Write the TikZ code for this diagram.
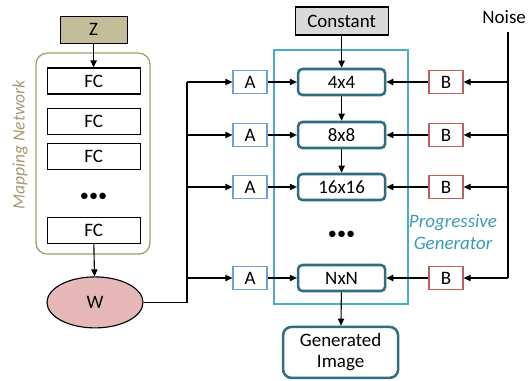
\documentclass[tikz,border=0pt]{standalone}
\usepackage{fontspec}
\setmainfont{Carlito}
\usepackage{xcolor}
\definecolor{mapolive}{HTML}{A59B6E}
\definecolor{zfill}{HTML}{C4BD97}
\definecolor{wfill}{HTML}{E6B9B8}
\definecolor{genframe}{HTML}{4BACC6}
\definecolor{gentext}{HTML}{3A9BB5}
\definecolor{blkteal}{HTML}{2E6E7E}
\definecolor{aline}{HTML}{6FA0DC}
\definecolor{bline}{HTML}{C0605E}
\definecolor{constfill}{HTML}{D9D9D9}
\usetikzlibrary{shapes.geometric,arrows.meta,positioning}

\begin{document}
\begin{tikzpicture}[
  font=\fontsize{13.5}{15}\selectfont,
  fc/.style={draw=black, fill=white, line width=0.8pt,
             minimum width=2.325cm, minimum height=0.65cm, inner sep=0pt},
  blk/.style={draw=blkteal, fill=white, line width=1.8pt, rounded corners=3pt,
              minimum width=2.175cm, minimum height=0.65cm, inner sep=0pt},
  abox/.style={draw=aline, fill=white, line width=0.9pt,
               minimum width=0.85cm, minimum height=0.575cm, inner sep=0pt},
  bbox/.style={draw=bline, fill=white, line width=0.9pt,
               minimum width=0.85cm, minimum height=0.575cm, inner sep=0pt},
  frm/.style={rounded corners=8pt, line width=0.9pt, inner sep=0pt},
  dots/.style={font=\fontsize{13}{13}\selectfont, inner sep=0pt},
  ln/.style={draw=black, line width=0.8pt},
  arr/.style={-{Triangle[length=5pt,width=4.5pt]}, draw=black, line width=0.8pt}
]
  \useasboundingbox (0,0) rectangle (13.225,-9.5);

  %% Mapping network
  \node[frm, draw=mapolive, minimum width=2.85cm, minimum height=5.025cm] (map) at (2.325,-3.84) {};
  \node[font=\fontsize{12.5}{15}\selectfont\itshape\color{mapolive}, rotate=90] (maplbl) at (0.5,-3.625) {Mapping Network};
  \node[draw=black, fill=zfill, line width=0.8pt, minimum width=1.675cm,
        minimum height=0.675cm, inner sep=0pt] (z) at (2.34,-0.74) {Z};
  \node[fc] (fc1) at (2.34,-2.025) {FC};
  \node[fc] (fc2) at (2.34,-3.04)  {FC};
  \node[fc] (fc3) at (2.34,-3.91)  {FC};
  \node[dots] (fcdots) at (2.34,-4.93) {\textbullet\textbullet\textbullet};
  \node[fc] (fc4) at (2.34,-5.76)  {FC};
  \node[ellipse, draw=black, fill=wfill, line width=0.8pt, minimum width=2.4cm,
        minimum height=1.275cm, inner sep=0pt] (w) at (2.375,-7.56) {W};
  \draw[arr] (z) -- (fc1);
  \draw[arr] (fc4) -- (w);

  %% Progressive generator
  \node[draw=genframe, line width=0.9pt, minimum width=3.35cm, minimum height=6.35cm,
        inner sep=0pt] (gen) at (8.525,-4.425) {};
  \node[font=\fontsize{13.5}{16}\selectfont\itshape\color{gentext}, align=center] (genlbl)
    at (11.325,-5.8) {Progressive\\Generator};
  \node[draw=black, fill=constfill, line width=0.8pt, minimum width=2.325cm,
        minimum height=0.7cm, inner sep=0pt] (const) at (8.54,-0.525) {Constant};
  \node[blk] (r1) at (8.54,-2.05)  {4x4};
  \node[blk] (r2) at (8.54,-3.375) {8x8};
  \node[blk] (r3) at (8.54,-4.675) {16x16};
  \node[dots] (gendots) at (8.54,-5.88) {\textbullet\textbullet\textbullet};
  \node[blk] (rn) at (8.54,-6.95)  {NxN};
  \node[blk, minimum width=2.875cm, minimum height=1.275cm, align=center,
        rounded corners=6pt] (img) at (8.515,-8.81) {Generated\\Image};
  \draw[arr] (const) -- (r1);
  \draw[arr] (r1) -- (r2);
  \draw[arr] (r2) -- (r3);
  \draw[arr] (rn) -- (img);

  %% Style inputs
  \coordinate (bus) at (4.675,-2.05);
  \node[abox] (a1) at (6.25,-2.05)  {A};
  \node[abox] (a2) at (6.25,-3.375) {A};
  \node[abox] (a3) at (6.25,-4.675) {A};
  \node[abox] (an) at (6.25,-6.95)  {A};
  \draw[ln] (w.east) -| (bus);
  \draw[arr] (bus) -- (a1);
  \draw[arr] (a2 -| bus) -- (a2);
  \draw[arr] (a3 -| bus) -- (a3);
  \draw[arr] (an -| bus) -- (an);
  \draw[arr] (a1) -- (r1);
  \draw[arr] (a2) -- (r2);
  \draw[arr] (a3) -- (r3);
  \draw[arr] (an) -- (rn);

  %% Noise inputs
  \node[anchor=east, inner sep=1pt] (noise) at (13.19,-0.425) {Noise};
  \coordinate (nz) at (12.7,-0.8);
  \node[bbox] (b1) at (11.15,-2.05)  {B};
  \node[bbox] (b2) at (11.15,-3.375) {B};
  \node[bbox] (b3) at (11.15,-4.675) {B};
  \node[bbox] (bn) at (11.15,-6.95)  {B};
  \draw[ln] (nz) -- (bn -| nz);
  \draw[arr] (b1 -| nz) -- (b1);
  \draw[arr] (b2 -| nz) -- (b2);
  \draw[arr] (b3 -| nz) -- (b3);
  \draw[arr] (bn -| nz) -- (bn);
  \draw[arr] (b1) -- (r1);
  \draw[arr] (b2) -- (r2);
  \draw[arr] (b3) -- (r3);
  \draw[arr] (bn) -- (rn);
\end{tikzpicture}
\end{document}
